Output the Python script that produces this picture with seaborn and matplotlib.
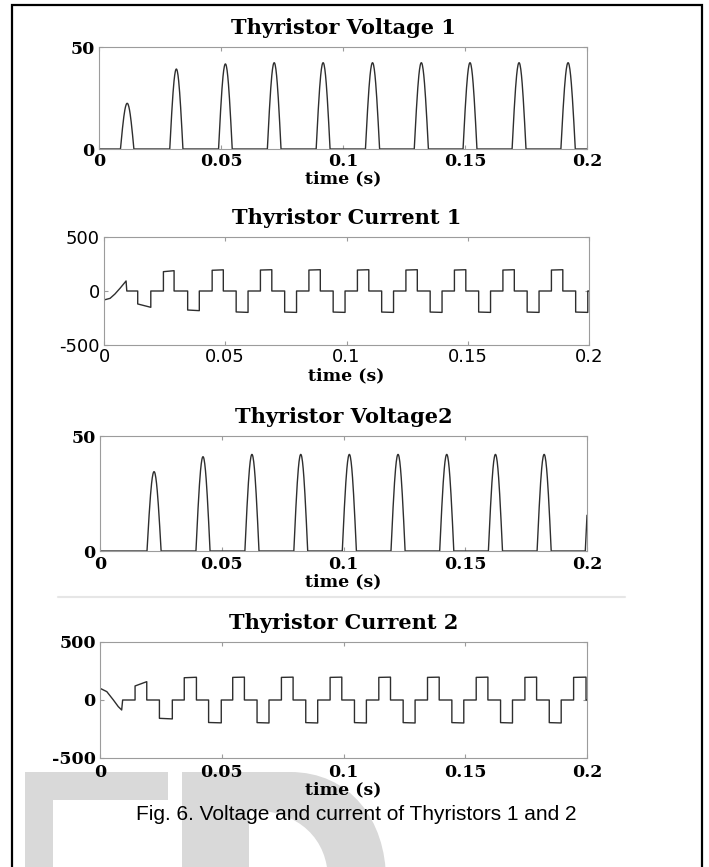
import numpy as np
import pandas as pd
import seaborn as sns
import matplotlib.pyplot as plt
from matplotlib.patches import Rectangle, PathPatch
from matplotlib.path import Path
from matplotlib.lines import Line2D

# ---- time axis ----
xticks = [0, 0.05, 0.1, 0.15, 0.2]
xtick_labels = ["0", "0.05", "0.1", "0.15", "0.2"]

# ---- thyristor 1 voltage: blocking pulses (start s, end s, peak V) ----
v1_start = [0.0088, 0.0290, 0.0490, 0.0690, 0.0890, 0.1092, 0.1292, 0.1492, 0.1693, 0.1893]
v1_end = [0.0143, 0.0344, 0.0546, 0.0746, 0.0947, 0.1150, 0.1350, 0.1549, 0.1750, 0.1952]
v1_peak = [22.4, 39.2, 41.7, 42.3, 42.3, 42.3, 42.3, 42.3, 42.3, 42.3]

# ---- thyristor 2 voltage ----
v2_start = [0.0193, 0.0394, 0.0595, 0.0796, 0.0995, 0.1195, 0.1395, 0.1595, 0.1795, 0.1993]
v2_end = [0.0251, 0.0452, 0.0653, 0.0853, 0.1053, 0.1253, 0.1453, 0.1653, 0.1853, 0.2051]
v2_peak = [34.5, 41.0, 42.0, 42.0, 42.0, 42.0, 42.0, 42.0, 42.0, 42.0]

# ---- thyristor 1 current: start-up transient, then conduction pulses ----
i1_t0 = [0.0, 0.0025, 0.0045, 0.0066, 0.0083, 0.0091, 0.0094]
i1_v0 = [-83, -68, -28, 25, 71, 93, 0]
i1_start = [0.0139, 0.0245, 0.0345, 0.0446, 0.0545, 0.0645, 0.0745, 0.0845, 0.0945, 0.1045,
            0.1145, 0.1245, 0.1345, 0.1445, 0.1545, 0.1645, 0.1745, 0.1845, 0.1945]
i1_end = [0.0193, 0.0289, 0.0393, 0.0492, 0.0594, 0.0692, 0.0794, 0.0892, 0.0994, 0.1092,
          0.1194, 0.1292, 0.1394, 0.1492, 0.1594, 0.1692, 0.1794, 0.1892, 0.1995]
i1_a = [-120, 179, -176, 192, -194, 194, -195, 194, -195, 194,
        -195, 194, -195, 194, -195, 194, -195, 194, -195]
i1_b = [-151, 188, -182, 196, -198, 197, -198, 197, -198, 197,
        -198, 197, -198, 197, -198, 197, -198, 197, -198]

# ---- thyristor 2 current ----
i2_t0 = [0.0, 0.0028, 0.0055, 0.0075, 0.0089, 0.0093]
i2_v0 = [101, 72, 0, -57, -86, 0]
i2_start = [0.0144, 0.0244, 0.0346, 0.0446, 0.0545, 0.0645, 0.0745, 0.0845, 0.0945, 0.1045,
            0.1145, 0.1245, 0.1345, 0.1445, 0.1545, 0.1645, 0.1745, 0.1845, 0.1945]
i2_end = [0.0192, 0.0297, 0.0396, 0.0498, 0.0593, 0.0694, 0.0793, 0.0894, 0.0993, 0.1094,
          0.1193, 0.1294, 0.1393, 0.1494, 0.1593, 0.1694, 0.1793, 0.1894, 0.1996]
i2_a = [121, -158, 192, -194, 195, -195, 195, -195, 195, -195,
        195, -195, 195, -195, 195, -195, 195, -195, 195]
i2_b = [158, -163, 196, -197, 197, -198, 197, -198, 197, -198,
        197, -198, 197, -198, 197, -198, 197, -198, 197]


def arch_wave(starts, ends, peaks, t_end=0.2, n=41):
    t, v = [0.0], [0.0]
    for s, e, p in zip(starts, ends, peaks):
        ts = np.linspace(s, e, n)
        vs = p * np.sin(np.pi * (ts - s) / (e - s))
        keep = ts <= t_end
        t.extend(ts[keep]); v.extend(vs[keep])
        if not keep.all():
            t.append(t_end); v.append(p * np.sin(np.pi * (t_end - s) / (e - s)))
    if t[-1] < t_end:
        t.append(t_end); v.append(0.0)
    return pd.DataFrame({"t": t, "v": v})


def step_wave(t0, v0, starts, ends, a, b, t_end=0.2):
    t, v = list(t0), list(v0)
    for s, e, la, lb in zip(starts, ends, a, b):
        t += [s, s, e, e]
        v += [0, la, lb, 0]
    t.append(t_end); v.append(0)
    return pd.DataFrame({"t": t, "v": v})


W, H = 709, 867
sns.set_theme(style="ticks")
plt.rcParams["font.family"] = ["DejaVu Sans"]
plt.rcParams["text.color"] = "black"
plt.rcParams["axes.labelcolor"] = "black"
plt.rcParams["axes.titlecolor"] = "black"

fig = plt.figure(figsize=(W / 100, H / 100), dpi=100)
fig.patch.set_facecolor("white")


def rect(l, t, r, b):
    return [l / W, 1 - b / H, (r - l) / W, (b - t) / H]


SERIF = "DejaVu Serif"
SANS = "DejaVu Sans"
line_c = "#2e2e2e"
spine_c = "#9c9c9c"

panels = [
    dict(pos=rect(99, 47, 587, 149), df=arch_wave(v1_start, v1_end, v1_peak),
         title="Thyristor Voltage 1", ylim=(0, 50), yticks=[0, 50], tfont=SERIF, tbold=True,
         tsize=12.5, xpad=3.0),
    dict(pos=rect(104, 237, 589, 345), df=step_wave(i1_t0, i1_v0, i1_start, i1_end, i1_a, i1_b),
         title="Thyristor Current 1", ylim=(-500, 500), yticks=[-500, 0, 500], tfont=SANS, tbold=False,
         tsize=13, xpad=2.5),
    dict(pos=rect(100, 436, 587, 551), df=arch_wave(v2_start, v2_end, v2_peak),
         title="Thyristor Voltage2", ylim=(0, 50), yticks=[0, 50], tfont=SERIF, tbold=True,
         tsize=12.5, xpad=3.5),
    dict(pos=rect(100, 642, 587, 758), df=step_wave(i2_t0, i2_v0, i2_start, i2_end, i2_a, i2_b),
         title="Thyristor Current 2", ylim=(-500, 500), yticks=[-500, 0, 500], tfont=SERIF, tbold=True,
         tsize=12.5, xpad=4.0),
]

for p in panels:
    ax = fig.add_axes(p["pos"])
    ax.set_facecolor("none")
    sns.lineplot(data=p["df"], x="t", y="v", ax=ax, sort=False, estimator=None,
                 color=line_c, linewidth=1.0)
    ax.set_xlim(0, 0.2)
    ax.set_ylim(*p["ylim"])
    ax.set_xticks(xticks)
    ax.set_xticklabels(xtick_labels)
    ax.set_yticks(p["yticks"])
    ax.set_yticklabels([str(v) for v in p["yticks"]])
    for sp in ax.spines.values():
        sp.set_visible(True)
        sp.set_color(spine_c)
        sp.set_linewidth(0.8)
    ax.tick_params(axis="both", direction="in", top=True, right=True, length=3,
                   width=0.8, color=spine_c, labelcolor="black")
    ax.tick_params(axis="x", pad=p["xpad"])
    ax.tick_params(axis="y", pad=3)
    for lab in ax.get_xticklabels() + ax.get_yticklabels():
        lab.set_fontfamily(p["tfont"])
        lab.set_fontweight("bold" if p["tbold"] else "normal")
        lab.set_fontsize(p["tsize"])
    ax.set_ylabel("")
    ax.set_xlabel("time (s)", fontfamily=SERIF, fontweight="bold", fontsize=12.5,
                  labelpad=0.5, color="black")
    ax.set_title(p["title"], fontfamily=SERIF, fontweight="bold", fontsize=15, pad=9.5,
                 color="black")

# light separator rule between the voltage and current panels of thyristor 2
fig.add_artist(Line2D([58 / W, 625 / W], [1 - 597 / H] * 2, color="#e6e6e6", linewidth=1.5,
                      transform=fig.transFigure, zorder=-1))

# pale "ED" letters in the lower margin
wm_c = "#d9d9d9"
for l, t, r, b in [(25, 772, 53, 880), (25, 772, 168, 800)]:
    fig.add_artist(Rectangle((l / W, 1 - b / H), (r - l) / W, (b - t) / H, transform=fig.transFigure,
                             facecolor=wm_c, edgecolor="none", zorder=-2))


def P(x, y):
    return (x / W, 1 - y / H)


d_verts = [P(182, 772), P(290, 772), P(350, 772), P(386, 820), P(386, 880), P(182, 880), P(182, 772),
           P(249, 810), P(249, 880), P(328, 880), P(328, 840), P(300, 810), P(249, 810)]
d_codes = [Path.MOVETO, Path.LINETO, Path.CURVE4, Path.CURVE4, Path.CURVE4, Path.LINETO, Path.CLOSEPOLY,
           Path.MOVETO, Path.LINETO, Path.LINETO, Path.CURVE4, Path.CURVE4, Path.CURVE4]
fig.add_artist(PathPatch(Path(d_verts, d_codes), transform=fig.transFigure, facecolor=wm_c,
                         edgecolor="none", zorder=-2))

fig.text(356 / W, 1 - 814 / H, "Fig. 6. Voltage and current of Thyristors 1 and 2",
         ha="center", va="center", fontfamily="Liberation Sans", fontsize=15, color="black")

# outer frame
fig.add_artist(Rectangle((12 / W, -0.01), 690 / W, 1 - 5 / H + 0.01, transform=fig.transFigure,
                         fill=False, edgecolor="black", linewidth=1.6, zorder=5))

fig.savefig("out.png", dpi=100, facecolor="white")
